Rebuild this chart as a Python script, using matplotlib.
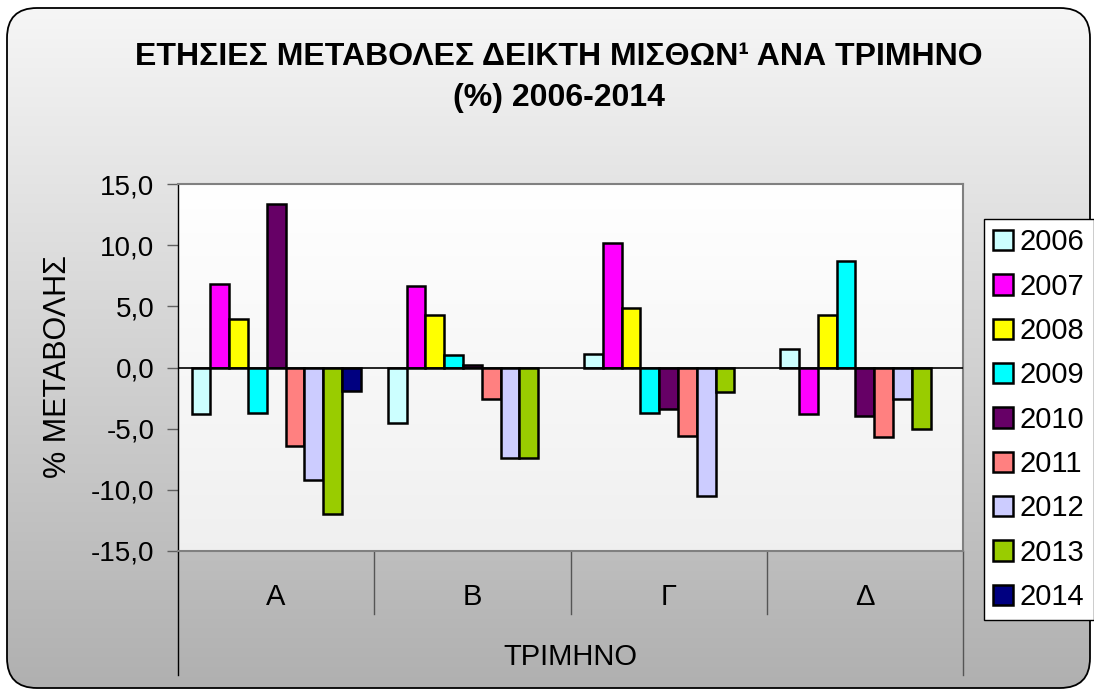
import numpy as np
import matplotlib
matplotlib.use("Agg")
import matplotlib.pyplot as plt
from matplotlib.patches import FancyBboxPatch
import matplotlib.transforms as mtransforms

plt.rcParams['font.family'] = ['Liberation Sans', 'DejaVu Sans']

quarters = ["Α", "Β", "Γ", "Δ"]
years = ["2006", "2007", "2008", "2009", "2010", "2011", "2012", "2013", "2014"]
v2006 = [-3.8, -4.5, 1.1, 1.5]
v2007 = [6.8, 6.7, 10.2, -3.8]
v2008 = [4.0, 4.3, 4.9, 4.3]
v2009 = [-3.7, 1.0, -3.7, 8.7]
v2010 = [13.4, 0.2, -3.4, -4.0]
v2011 = [-6.4, -2.6, -5.6, -5.7]
v2012 = [-9.2, -7.4, -10.5, -2.6]
v2013 = [-12.0, -7.4, -2.0, -5.0]
v2014 = [-1.9, None, None, None]
series = [v2006, v2007, v2008, v2009, v2010, v2011, v2012, v2013, v2014]
colors = ["#CCFFFF", "#FF00FF", "#FFFF00", "#00FFFF", "#660066",
          "#FF8080", "#CCCCFF", "#99CC00", "#000080"]
yticks = [-15, -10, -5, 0, 5, 10, 15]

W, H = 1094, 695
fig = plt.figure(figsize=(W / 100, H / 100), dpi=100)
fig.patch.set_facecolor("white")

# background rounded frame with vertical gradient
bg = fig.add_axes([0, 0, 1, 1], zorder=-10)
bg.set_xlim(0, W)
bg.set_ylim(H, 0)
bg.axis("off")
grad = np.linspace(0, 1, 256).reshape(-1, 1)
top = np.array([0.965, 0.965, 0.965])
bot = np.array([0.69, 0.69, 0.69])
img = (top + (bot - top) * grad[..., None]).reshape(256, 1, 3)
frame = FancyBboxPatch((7, 8), 1083, 680, boxstyle="round,pad=0,rounding_size=30",
                       facecolor="none", edgecolor="black", lw=1.3, zorder=3)
bg.add_patch(frame)
im = bg.imshow(img, extent=[7, 1090, 688, 8], aspect="auto", zorder=1)
im.set_clip_path(frame)

# main axes
x0, x1, y0, y1 = 178, 963, 184, 551
ax = fig.add_axes([x0 / W, 1 - y1 / H, (x1 - x0) / W, (y1 - y0) / H])
ax.set_facecolor("none")
pimg = (np.array([1.0, 1.0, 1.0]) + (np.array([0.94, 0.94, 0.94]) - 1.0) * grad[..., None]).reshape(256, 1, 3)
ax.imshow(pimg, extent=[0, 1, 0, 1], transform=ax.transAxes, aspect="auto", zorder=0)

n = len(series)
w = 0.0958
xs = np.arange(len(quarters))
for i, (vals, c, yr) in enumerate(zip(series, colors, years)):
    v = np.array([np.nan if a is None else a for a in vals], dtype=float)
    ax.bar(xs + (i - (n - 1) / 2) * w, v, w, color=c, edgecolor="black",
           lw=1.8, label=yr, zorder=3)

ax.set_xlim(-0.5, len(quarters) - 0.5)
ax.set_ylim(-15, 15)
ax.axhline(0, color="black", lw=1.2, zorder=4)

ax.set_yticks(yticks)
ax.set_yticklabels([f"{t:.1f}".replace(".", ",") for t in yticks], fontsize=20)
ax.tick_params(axis="y", direction="out", length=8, width=1, color="#606060", pad=9)
ax.set_xticks([])
for s in ["top", "right", "bottom"]:
    ax.spines[s].set_color("#808080")
    ax.spines[s].set_linewidth(1.5)
ax.spines["left"].set_color("black")
ax.spines["left"].set_linewidth(1)

trans = mtransforms.blended_transform_factory(ax.transData, ax.transAxes)
for b in np.arange(-0.5, len(quarters), 1.0):
    outer = b == -0.5 or b == len(quarters) - 0.5
    ylow = -(675 - 551) / (y1 - y0) if outer else -(614 - 551) / (y1 - y0)
    ax.plot([b, b], [0, ylow], transform=trans, color="black" if b == -0.5 else "#555555",
            lw=1.0, clip_on=False)
for i, q in enumerate(quarters):
    ax.text(i, -(597 - 551) / (y1 - y0), q, transform=trans, ha="center", va="center", fontsize=21)
ax.text(1.5, -(657 - 551) / (y1 - y0), "ΤΡΙΜΗΝΟ", transform=trans, ha="center", va="center", fontsize=21)

fig.text(58 / W, 1 - 367 / H, "% ΜΕΤΑΒΟΛΗΣ", rotation=90, ha="center", va="center", fontsize=22)

fig.text(559 / W, 1 - 57 / H, "ΕΤΗΣΙΕΣ ΜΕΤΑΒΟΛΕΣ ΔΕΙΚΤΗ ΜΙΣΘΩΝ¹ ΑΝΑ ΤΡΙΜΗΝΟ",
         ha="center", va="center", fontsize=23, fontweight="bold")
fig.text(559 / W, 1 - 98 / H, "(%) 2006-2014",
         ha="center", va="center", fontsize=23, fontweight="bold")

leg = fig.legend(loc="upper left", bbox_to_anchor=(984 / W, 1 - 219 / H), fontsize=21,
                 frameon=True, fancybox=False, edgecolor="black", facecolor="white",
                 framealpha=1, handlelength=0.69, handleheight=0.69, handletextpad=0.22,
                 labelspacing=0.56, borderpad=0.32, borderaxespad=0)
leg.get_frame().set_linewidth(1.0)

fig.savefig("out.png", dpi=100)
